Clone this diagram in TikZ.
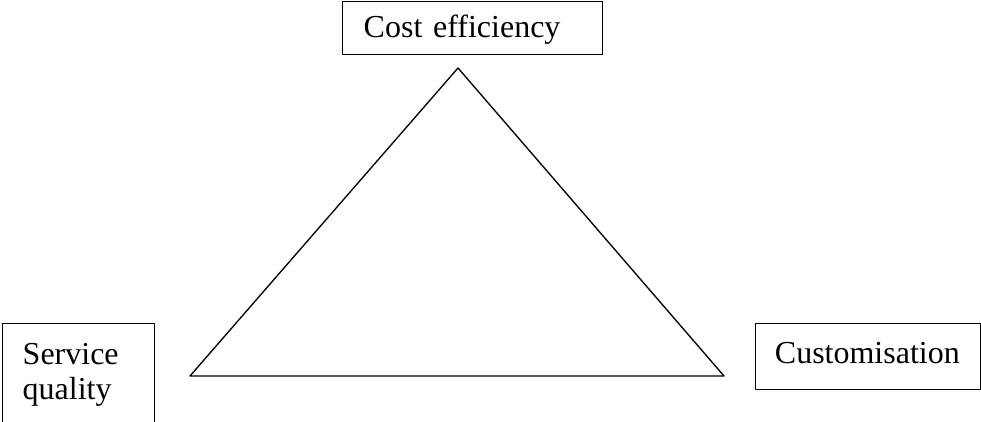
\documentclass[tikz,border=0pt]{standalone}
\usepackage{fontspec}
\setmainfont{Liberation Serif}
\begin{document}
\begin{tikzpicture}[x=0.75pt,y=-0.75pt,line join=round,
    box/.style={draw,line width=1.1pt,anchor=north west,inner ysep=0pt,align=left,
      font=\fontsize{24}{26.25}\selectfont}]
  \useasboundingbox (0,0) rectangle (981,421);
  \node[box,inner xsep=15.75pt,text width=163.5pt,text height=27pt,text depth=12.75pt]
    (cost) at (342,1) {Cost efficiency};
  \node[box,inner xsep=15pt,text width=84pt,text height=30.75pt,text depth=57pt]
    (serv) at (2,323) {Service\\quality};
  \node[box,inner xsep=14.375pt,text width=140pt,text height=30pt,text depth=19.5pt]
    (cust) at (755,323) {Customisation};
  \coordinate (T) at (458,68);
  \coordinate (L) at (190,376);
  \coordinate (R) at (724,376);
  \draw[line width=1pt] (T) -- (R) -- (L) -- cycle;
\end{tikzpicture}
\end{document}
